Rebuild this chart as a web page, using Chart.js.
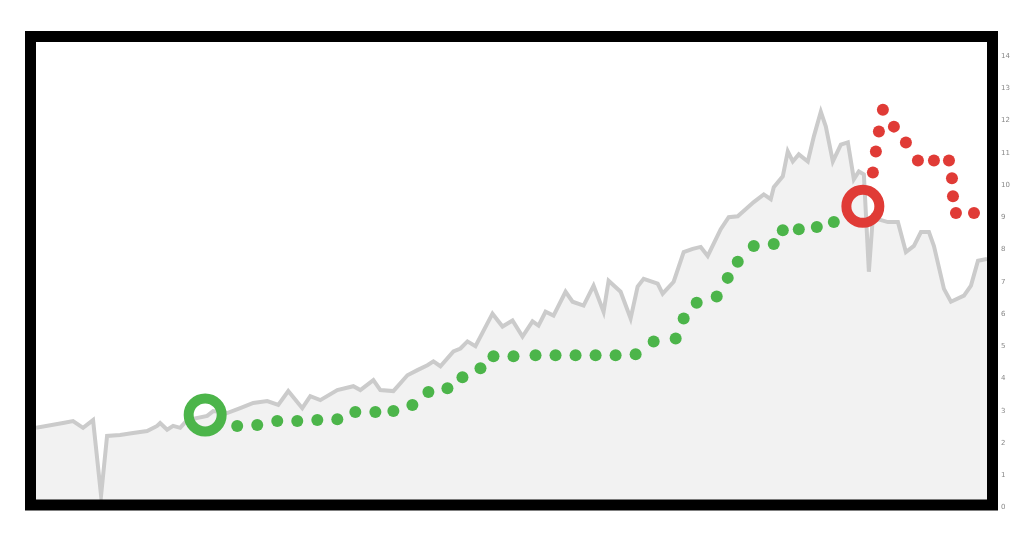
<!DOCTYPE html>
<html>
<head>
<meta charset="utf-8">
<script src="https://cdn.jsdelivr.net/npm/chart.js@4"></script>
<style>
  body { margin: 0; background: #fff; }
  #wrap { width: 1024px; height: 534px; position: relative; }
</style>
</head>
<body>
<div id="wrap"><canvas id="trendChart"></canvas></div>
<script>
// Gray background series (price history)
const grayX = [0, 5.4, 7.4, 9.4, 11.4, 13.0, 14.2, 16.8, 19.4, 22.2, 24.2, 24.8, 26.2, 27.4, 28.8, 30.2,
  34.2, 35.4, 38.2, 40.8, 43.4, 46.2, 48.4, 50.4, 53.2, 54.8, 56.8, 60.2, 63.4, 64.8, 67.4, 68.8,
  71.4, 74.2, 76.2, 78.2, 79.4, 80.8, 83.4, 84.8, 86.2, 87.8, 91.2, 93.2, 95.2, 97.2, 99.2, 100.4,
  101.8, 103.4, 105.8, 107.2, 109.4, 111.4, 113.4, 114.4, 116.8, 118.8, 120.2, 121.4, 124.2, 125.2,
  127.4, 129.4, 131.2, 132.8, 134.2, 136.8, 138.4, 140.2, 143.4, 145.4, 146.8, 147.4, 149.2, 150.2,
  151.2, 152.4, 154.2, 155.4, 156.8, 157.8, 159.2, 160.8, 162.2, 163.4, 164.4, 165.4, 166.4, 167.2,
  168.2, 170.2, 172.2, 173.8, 175.4, 176.8, 178.4, 179.4, 181.4, 182.8, 185.4, 186.8, 188.2, 190];
const grayY = [2.47, 2.62, 2.68, 2.47, 2.71, 0.37, 2.22, 2.25, 2.31, 2.37, 2.53, 2.62, 2.41, 2.53, 2.47, 2.71,
  2.84, 2.99, 2.93, 3.08, 3.24, 3.30, 3.18, 3.61, 3.08, 3.45, 3.33, 3.64, 3.76, 3.64, 3.95, 3.64,
  3.61, 4.10, 4.26, 4.41, 4.53, 4.38, 4.84, 4.93, 5.15, 5.00, 6.01, 5.61, 5.80, 5.30, 5.77, 5.64,
  6.07, 5.95, 6.69, 6.38, 6.26, 6.88, 6.07, 7.03, 6.69, 5.86, 6.85, 7.09, 6.94, 6.63,
  7.00, 7.92, 8.02, 8.08, 7.80, 8.63, 9.00, 9.03, 9.47, 9.71, 9.56, 9.93, 10.27, 11.04,
  10.73, 10.95, 10.73, 11.50, 12.27, 11.81, 10.73, 11.25, 11.32, 10.18, 10.42, 10.33, 7.31, 9.03,
  8.94, 8.85, 8.85, 7.92, 8.11, 8.54, 8.54, 8.11, 6.78, 6.38, 6.57, 6.88, 7.65, 7.71];

// Green dotted uptrend (first point = entry circle)
const greenX = [33.8, 40.2, 44.2, 48.2, 52.2, 56.2, 60.2, 63.8, 67.8, 71.4, 75.2, 78.4, 82.2, 85.2, 88.8,
  91.4, 95.4, 99.8, 103.8, 107.8, 111.8, 115.8, 119.8, 123.4, 127.8, 129.4, 132.0, 136.0, 138.2,
  140.2, 143.4, 147.4, 149.2, 152.4, 156.0, 159.4];
const greenY = [2.87, 2.53, 2.56, 2.68, 2.68, 2.71, 2.74, 2.96, 2.96, 2.99, 3.18, 3.58, 3.70, 4.04, 4.32,
  4.69, 4.69, 4.72, 4.72, 4.72, 4.72, 4.72, 4.75, 5.15, 5.24, 5.86, 6.35, 6.54, 7.12,
  7.62, 8.11, 8.17, 8.60, 8.63, 8.70, 8.85];

// Red dotted path (first point = exit circle)
const redX = [165.2, 167.2, 167.8, 168.4, 169.2, 171.4, 173.8, 176.2, 179.4, 182.4, 183.0, 183.2, 183.8, 187.4];
const redY = [9.34, 10.39, 11.04, 11.66, 12.33, 11.81, 11.32, 10.76, 10.76, 10.76, 10.21, 9.65, 9.13, 9.13];

const yTicks = [0, 14];

const toPts = (xs, ys) => xs.map((x, i) => ({ x: x, y: ys[i] }));

// thick black frame around the plot
const framePlugin = {
  id: 'frame',
  afterDraw(chart) {
    const a = chart.chartArea;
    const ctx = chart.ctx;
    ctx.save();
    ctx.strokeStyle = '#000';
    ctx.lineWidth = 11;
    const l = a.left - 5.5, t = a.top - 19.5, r = a.right + 5.5, b = a.bottom - 2.5;
    ctx.strokeRect(l, t, r - l, b - t);
    ctx.restore();
  }
};

const dotStyle = (color) => ({
  showLine: false,
  pointStyle: 'circle',
  pointRadius: (c) => c.dataIndex === 0 ? 16.5 : 6,
  pointBorderWidth: (c) => c.dataIndex === 0 ? 10 : 0,
  pointBackgroundColor: (c) => c.dataIndex === 0 ? 'rgba(0,0,0,0)' : color,
  pointBorderColor: color,
  pointHoverRadius: (c) => c.dataIndex === 0 ? 16.5 : 6
});

const ctx = document.getElementById('trendChart').getContext('2d');
const trendChart = new Chart(ctx, {
  type: 'line',
  data: {
    datasets: [
      {
        label: 'History',
        data: toPts(grayX, grayY),
        borderColor: '#cbcbcb',
        backgroundColor: '#f2f2f2',
        borderWidth: 4,
        pointRadius: 0,
        fill: 'origin',
        tension: 0,
        order: 3
      },
      Object.assign({ label: 'Up', data: toPts(greenX, greenY), order: 2 }, dotStyle('#4cb54a')),
      Object.assign({ label: 'Down', data: toPts(redX, redY), order: 1 }, dotStyle('#e03b36'))
    ]
  },
  options: {
    responsive: true,
    maintainAspectRatio: false,
    animation: false,
    layout: { padding: { left: 36, top: 56, bottom: 24, right: 0 } },
    scales: {
      x: { type: 'linear', min: 0, max: 190, display: false },
      y: {
        position: 'right',
        min: yTicks[0],
        max: yTicks[1],
        grid: { display: false, drawTicks: false },
        border: { display: false },
        ticks: {
          stepSize: 1,
          padding: 14,
          color: '#888',
          font: { family: 'DejaVu Sans', size: 7 }
        },
        afterFit: (scale) => { scale.width = 37; }
      }
    },
    plugins: {
      legend: { display: false },
      tooltip: { enabled: false }
    }
  },
  plugins: [framePlugin]
});
</script>
</body>
</html>
